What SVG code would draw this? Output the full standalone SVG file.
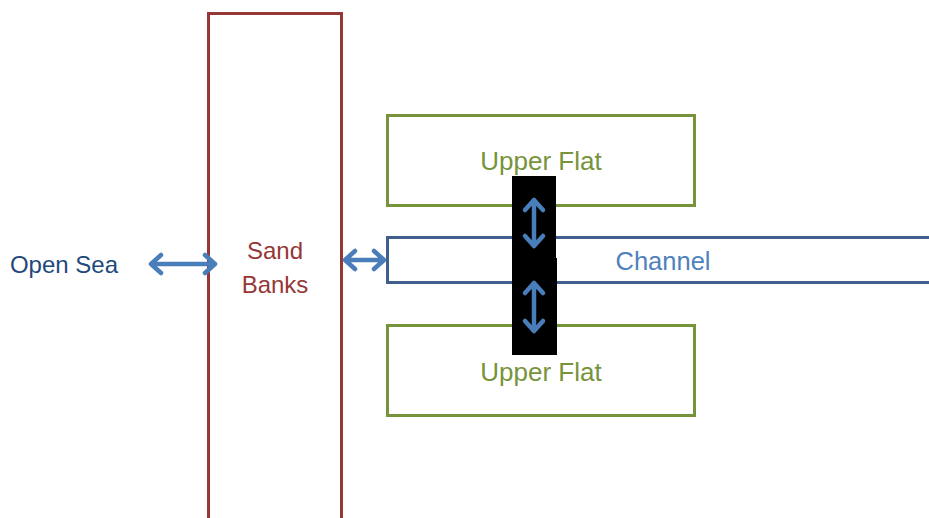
<svg xmlns="http://www.w3.org/2000/svg" width="929" height="518" viewBox="0 0 929 518">
<style>
.t{font-family:"Liberation Sans",Arial,sans-serif;text-anchor:middle}
.flat{fill:none;stroke:#77933C;stroke-width:3}
.arr{fill:none;stroke:#4A7EBB;stroke-width:4.5;stroke-linecap:round;stroke-linejoin:round}
</style>
<rect width="929" height="518" fill="#fff"/>
<g id="open-sea"><text class="t" x="64" y="273" font-size="24" fill="#1F497D">Open Sea</text></g>
<g id="sand-banks"><rect x="208.5" y="13.5" width="133" height="520" fill="none" stroke="#953735" stroke-width="3"/>
<text class="t" x="275" y="259" font-size="24" fill="#953735">Sand</text>
<text class="t" x="275" y="293" font-size="24" fill="#953735">Banks</text></g>
<g id="upper-flat-1"><rect class="flat" x="387.5" y="115.5" width="307" height="90"/><text class="t" x="541" y="170" font-size="26" fill="#77933C">Upper Flat</text></g>
<g id="channel"><path d="M940 237.5H387.5V282.5H940" fill="none" stroke="#3F5F8F" stroke-width="3"/><text class="t" x="663" y="270" font-size="25.5" fill="#4F81BD">Channel</text></g>
<g id="upper-flat-2"><rect class="flat" x="387.5" y="325.5" width="307" height="90"/><text class="t" x="541" y="381" font-size="26" fill="#77933C">Upper Flat</text></g>
<g id="connectors">
<path class="arr" d="M151 264H215M161 255L151 264L161 273M205 255L215 264L205 273"/>
<path class="arr" d="M345 260H384M355 251L345 260L355 269M374 251L384 260L374 269"/>
<rect x="512" y="176" width="44" height="82" fill="#000"/>
<rect x="512" y="258" width="45" height="97" fill="#000"/>
<path class="arr" d="M534 200V246M525 210L534 200L543 210M525 236L534 246L543 236"/>
<path class="arr" d="M534 283V331M525 293L534 283L543 293M525 321L534 331L543 321"/>
</g>
</svg>
